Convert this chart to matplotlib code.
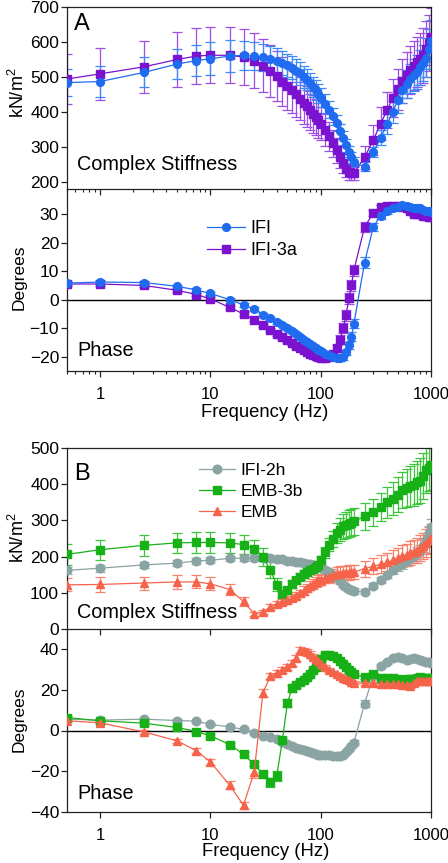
import matplotlib
matplotlib.use("Agg")
import matplotlib.pyplot as plt
from matplotlib.ticker import FixedLocator, LogLocator, NullLocator, NullFormatter, FixedFormatter

plt.rcParams['font.family'] = ['Liberation Sans', 'DejaVu Sans']
plt.rcParams['mathtext.fontset'] = 'custom'
plt.rcParams['mathtext.rm'] = 'Liberation Sans'
plt.rcParams['mathtext.it'] = 'Liberation Sans:italic'

# ---------------- data ----------------
freq = [0.5, 1, 2.5, 5, 7.5, 10, 15, 20, 25, 30,
        35, 40, 45, 50, 55, 60, 65, 70, 75, 80,
        85, 90, 95, 100, 110, 120, 130, 140, 150, 160,
        170, 180, 190, 200, 250, 300, 350, 400, 450, 500,
        550, 600, 650, 700, 750, 800, 850, 900, 950, 1000]

# Panel A - complex stiffness (kN/m^2)
ifi_stiff = [484, 487, 513, 537, 547, 552, 560, 562, 559, 556,
             552, 547, 540, 533, 526, 518, 510, 500, 492, 482,
             472, 462, 452, 441, 424, 407, 388, 368, 345, 325,
             305, 287, 270, 256, 244, 285, 327, 365, 400, 433,
             463, 480, 495, 505, 515, 528, 540, 555, 580, 603]
ifi_stiff_err = [38, 45, 43, 43, 45, 47, 45, 42, 40, 38,
                 37, 36, 35, 34, 33, 32, 32, 31, 30, 30,
                 29, 28, 27, 27, 26, 25, 24, 23, 22, 20,
                 18, 16, 15, 14, 13, 15, 22, 28, 32, 35,
                 38, 40, 42, 45, 48, 50, 52, 55, 58, 60]
ifi3a_stiff = [494, 509, 529, 550, 560, 562, 562, 557, 547, 532,
               517, 502, 487, 474, 462, 450, 438, 427, 416, 405,
               395, 386, 376, 367, 348, 330, 310, 290, 271, 253,
               238, 229, 226, 226, 270, 320, 367, 405, 440, 465,
               488, 505, 520, 532, 542, 552, 562, 580, 597, 615]
ifi3a_stiff_err = [72, 75, 75, 78, 80, 80, 80, 80, 78, 76,
                   74, 72, 70, 68, 66, 64, 62, 60, 58, 56,
                   54, 52, 50, 48, 45, 42, 38, 35, 32, 28,
                   25, 22, 20, 20, 32, 42, 48, 52, 55, 58,
                   62, 65, 68, 70, 72, 75, 78, 80, 80, 82]

# Panel A - phase (degrees)
ifi_phase = [5.8, 6.2, 6.0, 4.7, 3.4, 2.2, 0.0, -1.8, -3.3, -5.2,
             -6.5, -7.8, -8.8, -10.0, -11.0, -12.0, -13.0, -14.0, -14.8, -15.5,
             -16.2, -17.0, -17.5, -18.0, -19.0, -19.5, -20.0, -20.5, -20.5, -20.0,
             -18.5, -16.0, -13.0, -8.5, 13.0, 25.5, 29.5, 31.0, 32.0, 32.5,
             33.2, 33.0, 32.5, 32.0, 32.3, 32.0, 31.5, 31.2, 31.0, 30.8]
ifi_phase_err = [0.6, 0.6, 0.6, 0.6, 0.6, 0.6, 0.6, 0.6, 0.6, 0.6,
                 0.6, 0.6, 0.6, 0.6, 0.6, 0.6, 0.6, 0.6, 0.6, 0.6,
                 0.6, 0.6, 0.6, 0.6, 0.7, 0.7, 0.8, 0.8, 0.9, 1.0,
                 1.0, 1.2, 1.5, 1.6, 1.8, 1.5, 1.2, 1.0, 0.8, 0.7,
                 0.6, 0.6, 0.6, 0.6, 0.6, 0.6, 0.6, 0.6, 0.6, 0.6]
ifi3a_phase = [5.5, 5.5, 5.0, 3.3, 1.8, 0.3, -2.7, -5.0, -7.0, -9.0,
               -10.5, -12.0, -13.2, -14.3, -15.3, -16.2, -17.0, -17.8, -18.4, -19.0,
               -19.5, -19.8, -20.2, -20.5, -20.5, -20.0, -19.0, -17.0, -14.0, -10.0,
               -5.5, 0.5, 5.0, 10.3, 25.5, 30.4, 32.5, 33.0, 33.0, 33.0,
               32.5, 32.0, 31.0, 30.0, 30.0, 30.0, 29.5, 29.3, 29.0, 29.0]
ifi3a_phase_err = [0.6, 0.6, 0.6, 0.6, 0.6, 0.6, 0.6, 0.6, 0.6, 0.6,
                   0.6, 0.6, 0.6, 0.6, 0.6, 0.6, 0.6, 0.6, 0.6, 0.6,
                   0.6, 0.6, 0.6, 0.7, 0.7, 0.8, 1.0, 1.2, 1.5, 1.8,
                   2.0, 2.0, 2.0, 2.0, 1.8, 1.2, 0.8, 0.7, 0.6, 0.6,
                   0.6, 0.6, 0.6, 0.6, 0.6, 0.6, 0.6, 0.6, 0.6, 0.6]

# Panel B - complex stiffness (kN/m^2)
ifi2h_stiff = [162, 168, 177, 182, 188, 190, 195, 196, 197, 197,
               195, 193, 192, 189, 188, 186, 184, 182, 180, 179,
               177, 175, 173, 168, 164, 157, 150, 141, 132, 122,
               115, 110, 107, 105, 103, 120, 136, 150, 162, 173,
               180, 187, 196, 203, 210, 216, 230, 245, 265, 282]
ifi2h_stiff_err = [10, 10, 8, 8, 8, 8, 8, 8, 8, 8,
                   8, 7, 7, 7, 7, 7, 7, 7, 7, 7,
                   7, 7, 7, 7, 7, 7, 7, 7, 7, 7,
                   7, 7, 7, 7, 7, 8, 9, 10, 11, 12,
                   13, 14, 15, 15, 16, 17, 18, 19, 20, 22]
emb3b_stiff = [206, 219, 231, 238, 239, 239, 238, 233, 221, 198,
               164, 122, 97, 107, 124, 134, 144, 152, 157, 162,
               167, 170, 178, 190, 212, 233, 249, 265, 274, 284,
               288, 291, 294, 297, 311, 322, 337, 350, 360, 371,
               385, 390, 394, 399, 405, 410, 422, 440, 446, 452]
emb3b_stiff_err = [30, 28, 28, 28, 28, 28, 27, 27, 26, 25,
                   22, 18, 12, 10, 10, 10, 10, 10, 10, 10,
                   10, 10, 10, 12, 15, 18, 22, 28, 32, 35,
                   36, 38, 38, 38, 38, 38, 40, 42, 45, 48,
                   50, 52, 55, 58, 60, 62, 63, 65, 66, 68]
emb_stiff = [122, 123, 127, 130, 130, 125, 109, 76, 42, 47,
             61, 69, 75, 80, 86, 92, 99, 106, 113, 120,
             125, 130, 134, 136, 142, 145, 149, 151, 153, 154,
             155, 156, 157, 157, 167, 173, 179, 184, 190, 196,
             201, 205, 210, 213, 216, 224, 230, 238, 245, 251]
emb_stiff_err = [18, 22, 18, 20, 18, 18, 15, 12, 6, 6,
                 8, 8, 9, 10, 10, 10, 10, 12, 12, 12,
                 14, 14, 15, 15, 16, 18, 18, 20, 20, 20,
                 20, 20, 20, 20, 22, 22, 25, 25, 28, 28,
                 30, 30, 32, 32, 35, 35, 36, 38, 38, 40]

# Panel B - phase (degrees)
ifi2h_phase = [5.6, 5.1, 5.6, 4.9, 4.6, 3.0, 1.8, 0.5, -1.1, -2.5,
               -3.3, -4.4, -5.5, -6.7, -7.6, -8.4, -9.0, -9.7, -10.3, -10.8,
               -11.3, -11.7, -12.0, -12.2, -12.3, -12.0, -12.5, -12.6, -12.6, -12.2,
               -10.8, -8.9, -7.5, -6.0, 13.3, 27.0, 31.7, 33.8, 35.5, 36.3,
               35.8, 34.6, 35.0, 35.5, 35.0, 34.6, 34.3, 33.8, 33.5, 33.3]
ifi2h_phase_err = [0.8, 0.8, 0.8, 0.8, 0.8, 0.8, 0.8, 0.8, 0.8, 0.8,
                   0.8, 0.8, 0.8, 0.8, 0.8, 0.8, 0.8, 0.8, 0.8, 0.8,
                   0.8, 0.8, 0.8, 0.8, 0.8, 0.8, 0.8, 0.8, 0.8, 0.8,
                   0.8, 1.0, 1.0, 1.2, 1.5, 1.5, 1.0, 0.8, 0.8, 0.8,
                   0.8, 0.8, 0.8, 0.8, 0.8, 0.8, 0.8, 0.8, 0.8, 0.8]
emb3b_phase = [6.4, 4.8, 3.6, 1.5, -0.5, -2.6, -6.9, -11.7, -16.7, -21.5,
               -25.6, -22.5, -4.8, 13.6, 20.7, 22.3, 24.0, 25.1, 26.4, 28.0,
               29.7, 31.4, 33.0, 35.0, 37.1, 37.4, 36.6, 35.5, 34.3, 33.0,
               31.4, 29.7, 28.6, 27.6, 26.4, 27.6, 26.1, 26.0, 25.8, 25.6,
               25.1, 25.3, 25.3, 25.6, 26.1, 26.2, 26.1, 26.1, 26.1, 26.1]
emb3b_phase_err = [0.8, 0.8, 0.8, 0.8, 0.8, 0.8, 0.8, 1.0, 1.0, 1.2,
                   2.0, 2.5, 1.5, 2.0, 1.5, 1.2, 1.0, 1.0, 1.0, 1.0,
                   1.0, 1.0, 1.0, 1.0, 1.0, 1.0, 1.0, 0.8, 0.8, 0.8,
                   0.8, 0.8, 0.8, 0.8, 0.8, 0.8, 0.8, 0.8, 0.8, 0.8,
                   0.8, 0.8, 0.8, 0.8, 0.8, 0.8, 0.8, 0.8, 0.8, 0.8]
emb_phase = [4.8, 3.8, -0.7, -5.1, -10.0, -15.4, -27.0, -36.8, -20.4, 18.6,
             26.8, 28.1, 29.7, 31.4, 33.3, 35.5, 39.6, 39.2, 38.8, 37.9,
             36.3, 35.0, 34.0, 33.0, 31.4, 30.0, 28.6, 27.6, 26.8, 26.1,
             25.6, 24.8, 24.1, 23.6, 23.2, 23.2, 22.8, 22.7, 22.7, 22.7,
             22.5, 22.3, 21.8, 23.5, 24.3, 24.3, 24.5, 24.5, 24.3, 24.3]
emb_phase_err = [0.8, 0.8, 0.8, 1.0, 1.2, 1.5, 2.0, 1.8, 3.0, 2.0,
                 1.5, 1.5, 1.5, 1.5, 1.5, 1.5, 1.5, 1.5, 1.5, 1.2,
                 1.2, 1.0, 1.0, 1.0, 1.0, 1.0, 0.8, 0.8, 0.8, 0.8,
                 0.8, 0.8, 0.8, 0.8, 0.8, 0.8, 0.8, 0.8, 0.8, 0.8,
                 0.8, 0.8, 0.8, 0.8, 0.8, 0.8, 0.8, 0.8, 0.8, 0.8]

xtick_vals = [1, 10, 100, 1000]
xtick_labels = ["1", "10", "100", "1000"]

# ---------------- figure ----------------
W, H = 448, 863
fig = plt.figure(figsize=(W / 100, H / 100), dpi=100)


def rect(top, bottom, left=66.7, right=431):
    return [left / W, 1 - bottom / H, (right - left) / W, (bottom - top) / H]


axA1 = fig.add_axes(rect(7, 189))
axA2 = fig.add_axes(rect(189, 371))
axB1 = fig.add_axes(rect(448, 629))
axB2 = fig.add_axes(rect(629, 811.7))

C_IFI, E_IFI = '#1f6cf0', '#3d8af7'
C_3A, E_3A = '#7a12d0', '#9c4ee6'
C_2H, E_2H = '#8aa3a3', '#9bb2b2'
C_3B, E_3B = '#17b117', '#3fc63f'
C_EMB, E_EMB = '#f5634a', '#f8826c'


def series(ax, y, err, color, ecolor, marker, ms, label=None):
    ax.errorbar(freq, y, yerr=err, fmt='none', ecolor=ecolor, elinewidth=0.9,
                capsize=3.5, capthick=0.9, zorder=2)
    line, = ax.plot(freq, y, color=color, marker=marker, ms=ms, lw=0.9,
                    mec=color, mfc=color, zorder=3, label=label)
    return line


# Panel A
series(axA1, ifi3a_stiff, ifi3a_stiff_err, C_3A, E_3A, 's', 5.2)
series(axA1, ifi_stiff, ifi_stiff_err, C_IFI, E_IFI, 'o', 5.6)
h3a = series(axA2, ifi3a_phase, ifi3a_phase_err, C_3A, E_3A, 's', 5.2, 'IFI-3a')
hifi = series(axA2, ifi_phase, ifi_phase_err, C_IFI, E_IFI, 'o', 5.6, 'IFI')

# Panel B
series(axB1, ifi2h_stiff, ifi2h_stiff_err, C_2H, E_2H, 'o', 6.2)
series(axB1, emb3b_stiff, emb3b_stiff_err, C_3B, E_3B, 's', 5.2)
series(axB1, emb_stiff, emb_stiff_err, C_EMB, E_EMB, '^', 5.6)
h2h = series(axB2, ifi2h_phase, ifi2h_phase_err, C_2H, E_2H, 'o', 6.2, 'IFI-2h')
h3b = series(axB2, emb3b_phase, emb3b_phase_err, C_3B, E_3B, 's', 5.2, 'EMB-3b')
hemb = series(axB2, emb_phase, emb_phase_err, C_EMB, E_EMB, '^', 5.6, 'EMB')

axA2.axhline(0, color='black', lw=1.0, zorder=1)
axB2.axhline(0, color='black', lw=1.0, zorder=1)

for ax in (axA1, axA2, axB1, axB2):
    ax.set_xscale('log')
    ax.set_xlim(0.5, 1000)
    ax.set_facecolor('none')
    for s in ax.spines.values():
        s.set_linewidth(0.9)
        s.set_color('#222222')
    ax.xaxis.set_major_locator(FixedLocator(xtick_vals))
    ax.xaxis.set_major_formatter(FixedFormatter(xtick_labels))
    ax.tick_params(axis='y', direction='out', length=4, width=0.9,
                   labelsize=12.5, pad=1.5, right=False, colors='#222222',
                   labelcolor='black')
    ax.tick_params(axis='x', which='major', direction='out', length=4,
                   width=0.9, labelsize=12, pad=7.5, top=False,
                   colors='#222222', labelcolor='black')
    ax.tick_params(axis='x', which='minor', direction='out', length=2.5,
                   width=0.8, top=False, colors='#222222')

for ax in (axA1, axA2):
    ax.xaxis.set_minor_locator(LogLocator(base=10, subs=(2, 3, 4, 5, 6, 7, 8, 9)))
    ax.xaxis.set_minor_formatter(NullFormatter())
for ax in (axB1, axB2):
    ax.xaxis.set_minor_locator(NullLocator())

axA1.tick_params(axis='x', labelbottom=False)
axB1.tick_params(axis='x', labelbottom=False)
axA2.spines['top'].set_visible(False)
axB2.spines['top'].set_visible(False)

axA1.set_ylim(180, 700)
axA1.set_yticks([200, 300, 400, 500, 600, 700])
axA2.set_ylim(-25, 38.8)
axA2.set_yticks([-20, -10, 0, 10, 20, 30])
axB1.set_ylim(0, 500)
axB1.set_yticks([0, 100, 200, 300, 400, 500])
axB2.set_ylim(-40, 50)
axB2.set_yticks([-40, -20, 0, 20, 40])

# texts
def ftext(x, y, s, **kw):
    fig.text(x / W, 1 - y / H, s, **kw)

ftext(74, 24, 'A', fontsize=17, ha='left', va='center')
ftext(74, 474, 'B', fontsize=17, ha='left', va='center')
ftext(77, 164, 'Complex Stiffness', fontsize=14.3, ha='left', va='center')
ftext(77, 612, 'Complex Stiffness', fontsize=14.3, ha='left', va='center')
ftext(77, 350, 'Phase', fontsize=14.3, ha='left', va='center')
ftext(77, 793, 'Phase', fontsize=14.3, ha='left', va='center')
ftext(265, 412, 'Frequency (Hz)', fontsize=13.3, ha='center', va='center')
ftext(266, 851, 'Frequency (Hz)', fontsize=13.3, ha='center', va='center')
ftext(18, 93, 'kN/m$^{2}$', fontsize=13, rotation=90, ha='center', va='center')
ftext(18, 538, 'kN/m$^{2}$', fontsize=13, rotation=90, ha='center', va='center')
ftext(19, 277, 'Degrees', fontsize=12.5, rotation=90, ha='center', va='center')
ftext(19, 719, 'Degrees', fontsize=12.5, rotation=90, ha='center', va='center')

axA2.legend([hifi, h3a], ['IFI', 'IFI-3a'], loc='upper left',
            bbox_to_anchor=(0.385, 0.827), frameon=False, fontsize=13,
            handlelength=2.1, handletextpad=0.3, labelspacing=0.25,
            borderpad=0, borderaxespad=0)
axB1.legend([h2h, h3b, hemb], ['IFI-2h', 'EMB-3b', 'EMB'], loc='upper left',
            bbox_to_anchor=(0.363, 0.92), frameon=False, fontsize=12.5,
            handlelength=2.1, handletextpad=0.3, labelspacing=0.35,
            borderpad=0, borderaxespad=0)

fig.savefig('out.png', dpi=100)
